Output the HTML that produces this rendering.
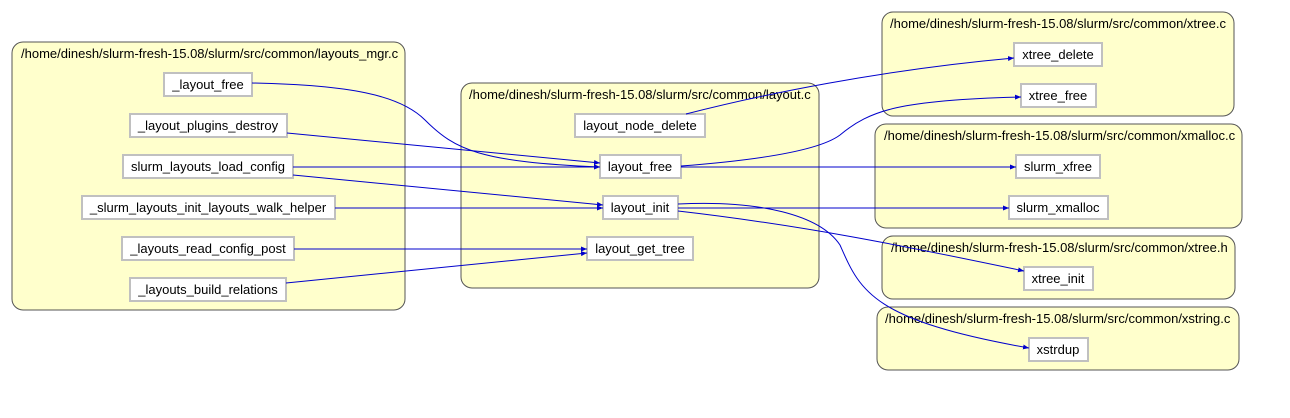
<!DOCTYPE html>
<html><head><meta charset="utf-8"><style>
html,body{margin:0;padding:0;background:#fff;}
svg{display:block;}
text{font-family:"Liberation Sans",sans-serif;font-size:13px;fill:#000;}
.c{fill:#ffffcc;stroke:#555;stroke-width:1;}
.n{fill:#fff;stroke:#c0c0c0;stroke-width:2;}
.e{fill:none;stroke:#0000cc;stroke-width:1;}
</style></head><body>
<svg width="1290" height="418" viewBox="0 0 1290 418">
<defs><marker id="a" markerWidth="6" markerHeight="6" refX="6" refY="3" orient="auto" markerUnits="userSpaceOnUse"><path d="M0,0.5 L6,3 L0,5.5z" fill="#0000cc"/></marker></defs>
<rect class="c" x="12" y="42" width="393" height="268" rx="11"/>
<text x="21" y="58">/home/dinesh/slurm-fresh-15.08/slurm/src/common/layouts_mgr.c</text>
<rect class="c" x="461" y="83" width="358" height="205" rx="11"/>
<text x="469" y="99">/home/dinesh/slurm-fresh-15.08/slurm/src/common/layout.c</text>
<rect class="c" x="882" y="12" width="352" height="104" rx="11"/>
<text x="890" y="28">/home/dinesh/slurm-fresh-15.08/slurm/src/common/xtree.c</text>
<rect class="c" x="875" y="124" width="367" height="104" rx="11"/>
<text x="884" y="140">/home/dinesh/slurm-fresh-15.08/slurm/src/common/xmalloc.c</text>
<rect class="c" x="882" y="236" width="353" height="63" rx="11"/>
<text x="891" y="252">/home/dinesh/slurm-fresh-15.08/slurm/src/common/xtree.h</text>
<rect class="c" x="877" y="307" width="362" height="63" rx="11"/>
<text x="885" y="323">/home/dinesh/slurm-fresh-15.08/slurm/src/common/xstring.c</text>

<g>
<rect class="n" x="164" y="73" width="88" height="23"/><text x="208" y="89" text-anchor="middle">_layout_free</text>
<rect class="n" x="130" y="114" width="157" height="23"/><text x="208" y="130" text-anchor="middle">_layout_plugins_destroy</text>
<rect class="n" x="123" y="155" width="170" height="23"/><text x="208" y="171" text-anchor="middle">slurm_layouts_load_config</text>
<rect class="n" x="82" y="196" width="253" height="23"/><text x="208" y="212" text-anchor="middle">_slurm_layouts_init_layouts_walk_helper</text>
<rect class="n" x="122" y="237" width="172" height="23"/><text x="208" y="253" text-anchor="middle">_layouts_read_config_post</text>
<rect class="n" x="130" y="278" width="156" height="23"/><text x="208" y="294" text-anchor="middle">_layouts_build_relations</text>
<rect class="n" x="575" y="114" width="130" height="23"/><text x="640" y="130" text-anchor="middle">layout_node_delete</text>
<rect class="n" x="600" y="155" width="81" height="23"/><text x="640" y="171" text-anchor="middle">layout_free</text>
<rect class="n" x="603" y="196" width="75" height="23"/><text x="640" y="212" text-anchor="middle">layout_init</text>
<rect class="n" x="587" y="237" width="106" height="23"/><text x="640" y="253" text-anchor="middle">layout_get_tree</text>
<rect class="n" x="1014" y="43" width="88" height="23"/><text x="1058" y="59" text-anchor="middle">xtree_delete</text>
<rect class="n" x="1021" y="84" width="75" height="23"/><text x="1058" y="100" text-anchor="middle">xtree_free</text>
<rect class="n" x="1016" y="155" width="84" height="23"/><text x="1058" y="171" text-anchor="middle">slurm_xfree</text>
<rect class="n" x="1009" y="196" width="99" height="23"/><text x="1058" y="212" text-anchor="middle">slurm_xmalloc</text>
<rect class="n" x="1024" y="267" width="69" height="23"/><text x="1058" y="283" text-anchor="middle">xtree_init</text>
<rect class="n" x="1029" y="338" width="59" height="23"/><text x="1058" y="354" text-anchor="middle">xstrdup</text>
</g>

<g>
<path class="e" marker-end="url(#a)" d="M252,83 C350,85 400,95 425,120 C455,150 480,162 600,167"/>
<path class="e" marker-end="url(#a)" d="M287,133 L600,163"/>
<path class="e" marker-end="url(#a)" d="M293,167 L600,167"/>
<path class="e" marker-end="url(#a)" d="M293,175 L603,205"/>
<path class="e" marker-end="url(#a)" d="M335,208 L603,208"/>
<path class="e" marker-end="url(#a)" d="M294,249 L587,249"/>
<path class="e" marker-end="url(#a)" d="M286,283 L587,253"/>
<path class="e" marker-end="url(#a)" d="M686,114 C760,95 880,70 1014,58"/>
<path class="e" marker-end="url(#a)" d="M681,166 C760,160 820,150 840,135 C870,110 900,100 1021,97"/>
<path class="e" marker-end="url(#a)" d="M681,167 L1016,167"/>
<path class="e" marker-end="url(#a)" d="M678,208 L1009,208"/>
<path class="e" marker-end="url(#a)" d="M678,211 C800,225 900,245 1024,271"/>
<path class="e" marker-end="url(#a)" d="M678,204 C760,200 820,215 840,245 C860,290 870,320 1029,348"/>
</g>
</svg>
</body></html>
